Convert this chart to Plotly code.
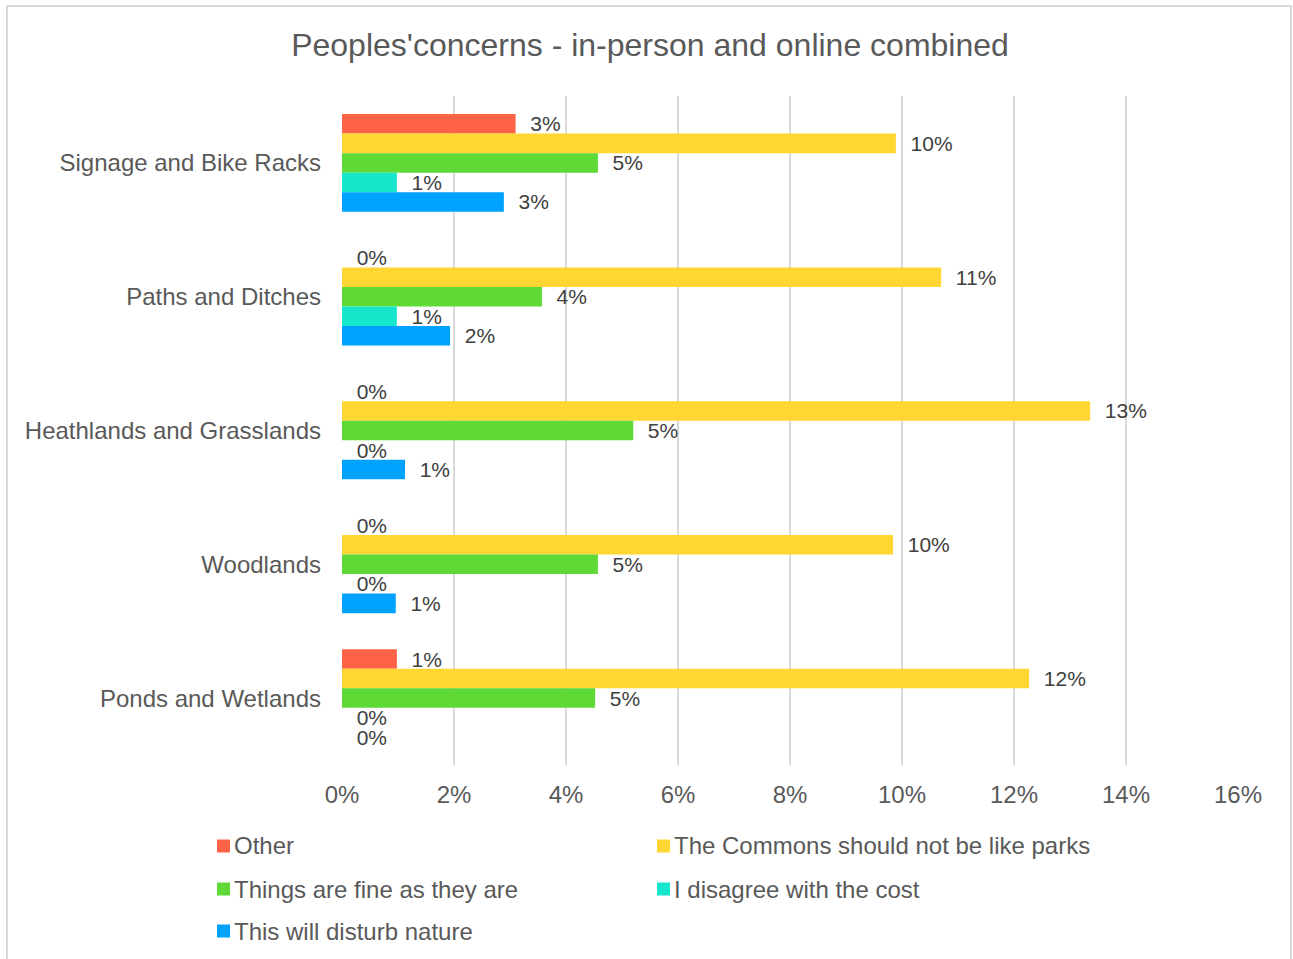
import plotly.graph_objects as go

# Survey data: share of respondents raising each concern, per habitat topic
categories = [
    "Signage and Bike Racks",
    "Paths and Ditches",
    "Heathlands and Grasslands",
    "Woodlands",
    "Ponds and Wetlands",
]
series_names = [
    "Other",
    "The Commons should not be like parks",
    "Things are fine as they are",
    "I disagree with the cost",
    "This will disturb nature",
]
other = [0.031, 0.0, 0.0, 0.0, 0.0098]
commons_not_parks = [0.0989, 0.107, 0.1336, 0.0984, 0.1227]
fine_as_they_are = [0.0457, 0.0357, 0.052, 0.0457, 0.0452]
disagree_cost = [0.0098, 0.0098, 0.0, 0.0, 0.0]
disturb_nature = [0.0289, 0.0193, 0.01125, 0.0096, 0.0]
x_ticks = [0, 0.02, 0.04, 0.06, 0.08, 0.10, 0.12, 0.14, 0.16]

series_values = [other, commons_not_parks, fine_as_they_are, disagree_cost, disturb_nature]
colors = ["#FF6347", "#FFD632", "#5FD936", "#16E6CC", "#00A2FF"]

FONT = "Liberation Sans, Arial, sans-serif"
W, H = 1293, 959
L, R, T, B = 342, 55, 96, 194
PW, PH = W - L - R, H - T - B


def px_x(px):
    return (px - L) / PW


def px_y(py):
    return (H - B - py) / PH


fig = go.Figure()
for name, vals, col in zip(series_names, series_values, colors):
    fig.add_trace(go.Bar(
        y=categories,
        x=vals,
        name=name,
        orientation="h",
        marker=dict(color=col, line=dict(width=0)),
        texttemplate="\u00a0\u00a0%{x:.0%}",
        textposition="outside",
        textfont=dict(family=FONT, size=21, color="#404040"),
        constraintext="none",
        cliponaxis=False,
        showlegend=False,
    ))

# Legend built from squares and labels, laid out in two columns
legend_slots = [(217, 846), (657, 846), (217, 889), (657, 889), (217, 931)]
shapes = []
annotations = []
for (lx, ly), name, col in zip(legend_slots, series_names, colors):
    shapes.append(dict(
        type="rect", xref="paper", yref="paper",
        x0=px_x(lx), x1=px_x(lx + 13), y0=px_y(ly + 6.5), y1=px_y(ly - 6.5),
        fillcolor=col, line=dict(width=0),
    ))
    annotations.append(dict(
        xref="paper", yref="paper", x=px_x(lx + 15), y=px_y(ly),
        xanchor="left", yanchor="middle", showarrow=False, text=name,
        font=dict(family=FONT, size=24, color="#595959"),
    ))

# Outer chart border
shapes.append(dict(
    type="rect", xref="paper", yref="paper",
    x0=px_x(7), x1=px_x(1291), y0=px_y(990), y1=px_y(6),
    fillcolor="rgba(0,0,0,0)", line=dict(color="#D9D9D9", width=2),
    layer="below",
))

fig.update_layout(
    width=W, height=H,
    margin=dict(l=L, r=R, t=T, b=B),
    paper_bgcolor="white",
    plot_bgcolor="white",
    barmode="group",
    bargap=0.27,
    bargroupgap=0,
    title=dict(
        text="Peoples'concerns - in-person and online combined",
        x=650 / W, xref="container", xanchor="center",
        y=1 - 45 / H, yref="container", yanchor="middle",
        font=dict(family=FONT, size=32, color="#595959"),
    ),
    xaxis=dict(
        range=[0, 0.16],
        tickvals=x_ticks,
        tickformat=".0%",
        showgrid=True, gridcolor="#D9D9D9", gridwidth=1.5,
        zeroline=False, showline=False, ticks="",
        tickfont=dict(family=FONT, size=24, color="#595959"),
        ticklabelstandoff=13,
    ),
    yaxis=dict(
        autorange="reversed",
        showgrid=False, zeroline=False, showline=False, ticks="",
        tickfont=dict(family=FONT, size=24, color="#595959"),
        ticklabelstandoff=20,
    ),
    shapes=shapes,
    annotations=annotations,
)

fig.write_html("out.html")
